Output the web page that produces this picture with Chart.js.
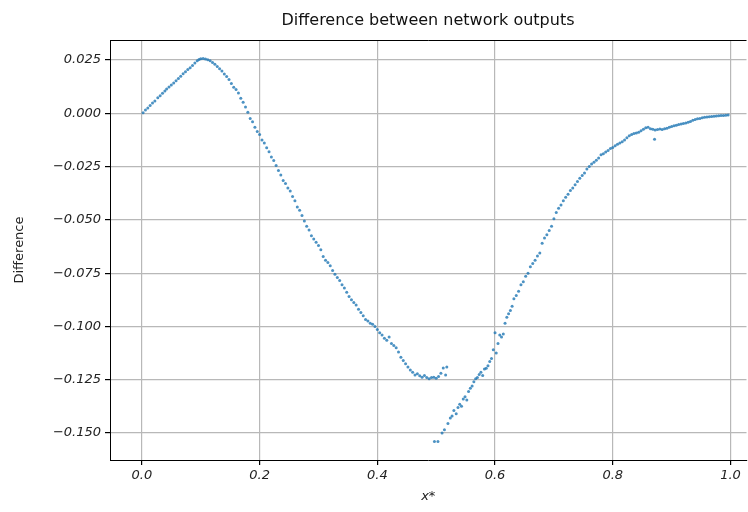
<!DOCTYPE html>
<html>
<head>
<meta charset="utf-8">
<script src="https://cdn.jsdelivr.net/npm/chart.js@4.4.1/dist/chart.umd.min.js"></script>
<style>
  body { margin: 0; background: #fff; }
  #wrap { width: 748px; height: 512px; }
</style>
</head>
<body>
<div id="wrap"><canvas id="diffChart" width="748" height="512"></canvas></div>
<script>
// values
const chartTitle = 'Difference between network outputs';
const xTitle = 'x*';
const yTitle = 'Difference';

const xTicks = [0.0, 0.2, 0.4, 0.6, 0.8, 1.0];
const yTicks = [0.025, 0.0, -0.025, -0.05, -0.075, -0.1, -0.125, -0.15];

// upper part: rise, peak and descent down to the first minimum
const xUpper = [
  0.002, 0.006, 0.010, 0.014, 0.018, 0.022, 0.027, 0.031, 0.035, 0.039,
  0.042, 0.046, 0.050, 0.054, 0.058, 0.062, 0.066, 0.070, 0.074, 0.078,
  0.082, 0.086, 0.090, 0.094, 0.097, 0.100, 0.104, 0.108, 0.112, 0.116,
  0.120, 0.124, 0.128, 0.132, 0.136, 0.140, 0.144, 0.148, 0.152, 0.156,
  0.160, 0.164, 0.168, 0.172, 0.176, 0.180, 0.184, 0.188, 0.192, 0.196,
  0.200, 0.204, 0.208, 0.212, 0.216, 0.220, 0.224, 0.228, 0.232, 0.236,
  0.240, 0.244, 0.248, 0.252, 0.256, 0.260, 0.264, 0.268, 0.272, 0.276,
  0.280, 0.284, 0.288, 0.292, 0.296, 0.300, 0.304, 0.308, 0.312, 0.316,
  0.320, 0.324, 0.328, 0.332, 0.336, 0.340, 0.344, 0.348, 0.352, 0.356,
  0.360, 0.364, 0.368, 0.372, 0.376, 0.380, 0.384, 0.388, 0.392, 0.396,
  0.400, 0.404, 0.408, 0.412, 0.416, 0.420, 0.424, 0.428, 0.432, 0.436,
  0.440, 0.444, 0.448, 0.452, 0.456, 0.460, 0.464, 0.468, 0.472, 0.476,
  0.480, 0.484, 0.488, 0.492, 0.496, 0.500, 0.504, 0.508, 0.512, 0.518,
  0.516
];
const yUpper = [
  0.0003, 0.0015, 0.0025, 0.0037, 0.0048, 0.0058, 0.0073, 0.0082, 0.0094, 0.0104,
  0.0114, 0.0123, 0.0133, 0.0142, 0.0153, 0.0163, 0.0174, 0.0186, 0.0195, 0.0205,
  0.0214, 0.0224, 0.0236, 0.0246, 0.0252, 0.0256, 0.0257, 0.0255, 0.0251, 0.0246,
  0.0238, 0.0230, 0.0220, 0.0209, 0.0198, 0.0184, 0.0172, 0.0158, 0.0140, 0.0122,
  0.0112, 0.0095, 0.0070, 0.0052, 0.0030, 0.0005, -0.0025, -0.0040, -0.0065, -0.0085,
  -0.0100, -0.0125, -0.0140, -0.0162, -0.0180, -0.0205, -0.0222, -0.0245, -0.0268, -0.0290,
  -0.0315, -0.0330, -0.0350, -0.0365, -0.0390, -0.0410, -0.0440, -0.0455, -0.0480, -0.0505,
  -0.0530, -0.0548, -0.0575, -0.0590, -0.0605, -0.0620, -0.0640, -0.0672, -0.0690, -0.0700,
  -0.0715, -0.0738, -0.0755, -0.0770, -0.0785, -0.0805, -0.0820, -0.0840, -0.0860, -0.0875,
  -0.0888, -0.0900, -0.0920, -0.0935, -0.0950, -0.0968, -0.0975, -0.0985, -0.0990, -0.1000,
  -0.1015, -0.1030, -0.1040, -0.1055, -0.1065, -0.1050, -0.1080, -0.1090, -0.1100, -0.1120,
  -0.1145, -0.1160, -0.1175, -0.1190, -0.1205, -0.1215, -0.1228, -0.1222, -0.1232, -0.1238,
  -0.1230, -0.1240, -0.1245, -0.1240, -0.1238, -0.1243, -0.1235, -0.1220, -0.1195, -0.1190,
  -0.1228
];

// lower part: second branch from the deep minimum back up to zero
const xLower = [
  0.497, 0.503, 0.510, 0.514, 0.520, 0.524, 0.527, 0.530, 0.534, 0.537,
  0.540, 0.543, 0.546, 0.549, 0.552, 0.555, 0.558, 0.561, 0.564, 0.567,
  0.570, 0.573, 0.576, 0.579, 0.582, 0.585, 0.588, 0.591, 0.594, 0.597,
  0.600, 0.602, 0.605, 0.608, 0.611, 0.614, 0.617, 0.620, 0.623, 0.626,
  0.629, 0.632, 0.636, 0.640, 0.644, 0.648, 0.652, 0.656, 0.660, 0.664,
  0.668, 0.672, 0.676, 0.680, 0.684, 0.688, 0.692, 0.696, 0.700, 0.704,
  0.708, 0.712, 0.716, 0.720, 0.724, 0.728, 0.732, 0.736, 0.740, 0.744,
  0.748, 0.752, 0.756, 0.760, 0.764, 0.768, 0.772, 0.776, 0.780, 0.784,
  0.788, 0.792, 0.796, 0.800, 0.804, 0.808, 0.812, 0.816, 0.820, 0.824,
  0.828, 0.832, 0.836, 0.840, 0.844, 0.848, 0.852, 0.856, 0.860, 0.864,
  0.868, 0.871, 0.872, 0.876, 0.880, 0.884, 0.888, 0.892, 0.896, 0.900,
  0.904, 0.908, 0.912, 0.916, 0.920, 0.924, 0.928, 0.932, 0.936, 0.940,
  0.944, 0.948, 0.952, 0.956, 0.960, 0.964, 0.968, 0.972, 0.976, 0.980,
  0.984, 0.988, 0.992, 0.996
];
const yLower = [
  -0.1540, -0.1540, -0.1500, -0.1485, -0.1455, -0.1430, -0.1420, -0.1395, -0.1410, -0.1380,
  -0.1365, -0.1375, -0.1340, -0.1330, -0.1345, -0.1305, -0.1290, -0.1280, -0.1260, -0.1245,
  -0.1240, -0.1225, -0.1215, -0.1230, -0.1200, -0.1196, -0.1185, -0.1165, -0.1150, -0.1110,
  -0.1030, -0.1125, -0.1080, -0.1040, -0.1050, -0.1035, -0.0985, -0.0957, -0.0940, -0.0925,
  -0.0905, -0.0870, -0.0855, -0.0835, -0.0805, -0.0790, -0.0765, -0.0750, -0.0720, -0.0705,
  -0.0690, -0.0670, -0.0655, -0.0610, -0.0585, -0.0570, -0.0550, -0.0530, -0.0495, -0.0465,
  -0.0446, -0.0430, -0.0410, -0.0394, -0.0380, -0.0362, -0.0350, -0.0335, -0.0320, -0.0305,
  -0.0292, -0.0280, -0.0262, -0.0250, -0.0238, -0.0230, -0.0220, -0.0210, -0.0195, -0.0190,
  -0.0182, -0.0175, -0.0165, -0.0160, -0.0152, -0.0145, -0.0140, -0.0134, -0.0125, -0.0115,
  -0.0105, -0.0100, -0.0095, -0.0092, -0.0089, -0.0082, -0.0075, -0.0068, -0.0066, -0.0072,
  -0.0075, -0.0122, -0.0078, -0.0076, -0.0074, -0.0076, -0.0072, -0.0070, -0.0066, -0.0062,
  -0.0058, -0.0056, -0.0053, -0.0050, -0.0048, -0.0046, -0.0042, -0.0038, -0.0033, -0.0029,
  -0.0026, -0.0024, -0.0021, -0.0019, -0.0018, -0.0016, -0.0015, -0.0014, -0.0013, -0.0012,
  -0.0011, -0.0010, -0.0009, -0.0008
];

const points = xUpper.map((x, i) => ({ x: x, y: yUpper[i] }))
  .concat(xLower.map((x, i) => ({ x: x, y: yLower[i] })));

const fmtMinus = s => s.replace('-', '\u2212');

// title centred over the axes + top spine (the right one is cut off in the reference)
const framePlugin = {
  id: 'frame',
  afterDraw(chart) {
    const ctx = chart.ctx;
    const a = chart.chartArea;
    ctx.save();
    ctx.strokeStyle = '#000';
    ctx.lineWidth = 1;
    ctx.beginPath();
    ctx.moveTo(a.left, a.top + 0.5);
    ctx.lineTo(a.right, a.top + 0.5);
    ctx.stroke();
    ctx.fillStyle = '#111';
    ctx.font = '16px "DejaVu Sans"';
    ctx.textAlign = 'center';
    ctx.textBaseline = 'middle';
    ctx.fillText(chartTitle, 428, 21);
    ctx.restore();
  }
};

const ctx = document.getElementById('diffChart').getContext('2d');
const chart = new Chart(ctx, {
  type: 'scatter',
  data: {
    datasets: [{
      label: 'difference',
      data: points,
      backgroundColor: 'rgba(31, 119, 180, 0.8)',
      borderWidth: 0,
      pointRadius: 1.5,
      pointHoverRadius: 1.5
    }]
  },
  options: {
    responsive: false,
    animation: false,
    layout: { padding: { top: 40, right: 0, bottom: 0, left: 0 } },
    plugins: {
      legend: { display: false },
      tooltip: { enabled: false },
      title: { display: false }
    },
    scales: {
      x: {
        type: 'linear',
        min: -0.0542,
        max: 1.0272,
        afterFit: s => { s.height = 52; },
        afterBuildTicks: s => { s.ticks = xTicks.map(v => ({ value: v })); },
        border: { color: '#000', width: 1 },
        grid: { color: '#b8b8b8', lineWidth: 1.2, tickColor: '#000', tickLength: 5 },
        ticks: {
          padding: 3,
          color: '#222',
          font: { family: 'DejaVu Sans', size: 13, style: 'italic' },
          callback: v => fmtMinus(Number(v).toFixed(1))
        },
        title: {
          display: true,
          text: xTitle,
          color: '#222',
          font: { family: 'DejaVu Sans', size: 13, style: 'italic' },
          padding: { top: 0, bottom: 8 }
        }
      },
      y: {
        type: 'linear',
        min: -0.16267,
        max: 0.03438,
        afterFit: s => { s.width = 110; },
        afterBuildTicks: s => { s.ticks = yTicks.map(v => ({ value: v })); },
        border: { color: '#000', width: 1 },
        grid: { color: '#b8b8b8', lineWidth: 1.2, tickColor: '#000', tickLength: 5 },
        ticks: {
          padding: 4,
          color: '#222',
          font: { family: 'DejaVu Sans', size: 13, style: 'italic' },
          callback: v => fmtMinus(Number(v).toFixed(3))
        },
        title: {
          display: true,
          text: yTitle,
          color: '#222',
          font: { family: 'DejaVu Sans', size: 13 },
          padding: { top: 12, bottom: 0 }
        }
      }
    }
  },
  plugins: [framePlugin]
});
</script>
</body>
</html>
